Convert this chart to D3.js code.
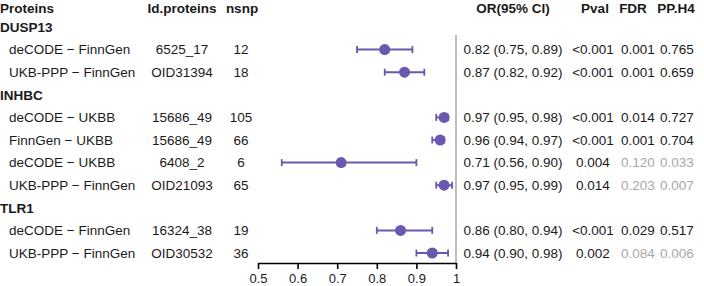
<!DOCTYPE html>
<html>
<head>
<meta charset="utf-8">
<script src="https://cdn.jsdelivr.net/npm/d3@7"></script>
<style>
  body { margin: 0; background: #fff; }
  svg text { font-family: "Liberation Sans", Arial, sans-serif; fill: #1a1a1a; }
</style>
</head>
<body>
<div id="chart"></div>
<script>
// Data
const groups = ["DUSP13", "INHBC", "TLR1"];
const rowGroup = ["DUSP13", "DUSP13", "INHBC", "INHBC", "INHBC", "INHBC", "TLR1", "TLR1"];
const comparisons = ["deCODE − FinnGen", "UKB-PPP − FinnGen", "deCODE − UKBB", "FinnGen − UKBB",
  "deCODE − UKBB", "UKB-PPP − FinnGen", "deCODE − FinnGen", "UKB-PPP − FinnGen"];
const idProteins = ["6525_17", "OID31394", "15686_49", "15686_49", "6408_2", "OID21093", "16324_38", "OID30532"];
const nsnp = [12, 18, 105, 66, 6, 65, 19, 36];
const orValues = [0.82, 0.87, 0.97, 0.96, 0.71, 0.97, 0.86, 0.94];
const ciLow = [0.75, 0.82, 0.95, 0.94, 0.56, 0.95, 0.80, 0.90];
const ciHigh = [0.89, 0.92, 0.98, 0.97, 0.90, 0.99, 0.94, 0.98];
const pvals = ["<0.001", "<0.001", "<0.001", "<0.001", "0.004", "0.014", "<0.001", "0.002"];
const fdr = ["0.001", "0.001", "0.014", "0.001", "0.120", "0.203", "0.029", "0.084"];
const ppH4 = ["0.765", "0.659", "0.727", "0.704", "0.033", "0.007", "0.517", "0.006"];
const xTicks = [0.5, 0.6, 0.7, 0.8, 0.9, 1];

const width = 704, height = 286;
const fontSize = 13.5;
const pointColor = "#6a58b0";
const greyText = "#a8a8a8";

// Build the row layout: a title row for each group then its items
const rows = [];
groups.forEach(g => {
    rows.push({ type: "group", label: g });
    rowGroup.forEach((rg, i) => {
        if (rg === g) rows.push({ type: "item", i: i });
    });
});

const svg = d3.select("#chart")
    .append("svg")
    .attr("width", width)
    .attr("height", height);

// Scales
const x = d3.scaleLinear().domain([0.5, 1]).range([258, 456]);
const y = d3.scaleLinear().domain([0, rows.length - 1]).range([27, 253]);
const headerY = 8;
const axisY = 263;

// Column positions
const cols = {
    protein: 0, item: 9,
    id: 182, nsnp: 241,
    or: 513, pval: 593, fdr: 638, pp: 677
};

// Header
const header = [
    { t: "Proteins", x: cols.protein, a: "start" },
    { t: "Id.proteins", x: 182, a: "middle" },
    { t: "nsnp", x: 242, a: "middle" },
    { t: "OR(95% CI)", x: 513, a: "middle" },
    { t: "Pval", x: 595, a: "middle" },
    { t: "FDR", x: 633, a: "middle" },
    { t: "PP.H4", x: 676, a: "middle" }
];
svg.append("g").selectAll("text")
    .data(header)
    .join("text")
    .attr("x", d => d.x)
    .attr("y", headerY)
    .attr("dy", "0.35em")
    .attr("text-anchor", d => d.a)
    .style("font-size", fontSize + "px")
    .style("font-weight", "bold")
    .text(d => d.t);

// Reference line at OR = 1
svg.append("line")
    .attr("x1", x(1)).attr("x2", x(1))
    .attr("y1", 35).attr("y2", axisY)
    .attr("stroke", "#bdbdbd")
    .attr("stroke-width", 2);

// Rows
const rowG = svg.append("g").selectAll("g")
    .data(rows)
    .join("g")
    .attr("transform", (d, k) => `translate(0, ${y(k)})`);

rowG.filter(d => d.type === "group")
    .append("text")
    .attr("x", cols.protein)
    .attr("dy", "0.35em")
    .style("font-size", fontSize + "px")
    .style("font-weight", "bold")
    .text(d => d.label);

const items = rowG.filter(d => d.type === "item");

function addText(sel, xPos, anchor, fn, colorFn) {
    sel.append("text")
        .attr("x", xPos)
        .attr("dy", "0.35em")
        .attr("text-anchor", anchor)
        .style("font-size", fontSize + "px")
        .style("fill", colorFn ? colorFn : null)
        .text(fn);
}

const isGrey = d => parseFloat(fdr[d.i]) > 0.05 ? greyText : "#1a1a1a";

addText(items, cols.item, "start", d => comparisons[d.i]);
addText(items, cols.id, "middle", d => idProteins[d.i]);
addText(items, cols.nsnp, "middle", d => nsnp[d.i]);
addText(items, cols.or, "middle", d =>
    `${orValues[d.i].toFixed(2)} (${ciLow[d.i].toFixed(2)}, ${ciHigh[d.i].toFixed(2)})`);
addText(items, cols.pval, "middle", d => pvals[d.i]);
addText(items, cols.fdr, "middle", d => fdr[d.i], isGrey);
addText(items, cols.pp, "middle", d => ppH4[d.i], isGrey);

// Error bars
items.append("line")
    .attr("x1", d => x(ciLow[d.i]))
    .attr("x2", d => x(ciHigh[d.i]))
    .attr("stroke", pointColor)
    .attr("stroke-width", 2);
items.selectAll(".cap")
    .data(d => [ciLow[d.i], ciHigh[d.i]])
    .join("line")
    .attr("class", "cap")
    .attr("x1", v => x(v)).attr("x2", v => x(v))
    .attr("y1", -3.5).attr("y2", 3.5)
    .attr("stroke", pointColor)
    .attr("stroke-width", 1.8);
items.append("circle")
    .attr("cx", d => x(orValues[d.i]))
    .attr("r", 5.5)
    .attr("fill", pointColor);

// X axis
const axis = svg.append("g")
    .attr("transform", `translate(0, ${axisY})`)
    .call(d3.axisBottom(x).tickValues(xTicks).tickFormat(d3.format("")).tickSize(6).tickSizeOuter(0));
axis.select(".domain").attr("stroke", "#000").attr("stroke-width", 1.6);
axis.selectAll(".tick line").attr("stroke", "#000").attr("stroke-width", 1.6);
axis.selectAll(".tick text")
    .attr("y", 15)
    .attr("dy", "0.35em")
    .style("font-size", "13px")
    .style("font-family", "'Liberation Sans', Arial, sans-serif")
    .attr("fill", "#1a1a1a");
</script>
</body>
</html>
